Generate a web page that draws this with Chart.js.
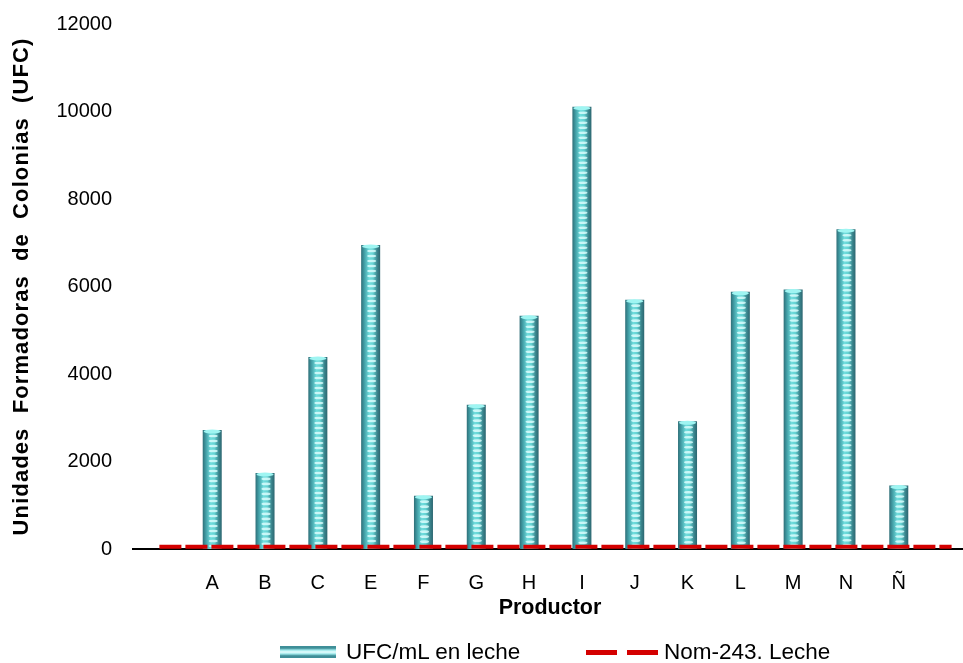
<!DOCTYPE html>
<html>
<head>
<meta charset="utf-8">
<script src="https://cdn.jsdelivr.net/npm/chart.js@4.4.1/dist/chart.umd.min.js"></script>
<style>
  html, body { margin: 0; padding: 0; background: #fff; overflow: hidden; }
  #wrap { position: relative; width: 963px; height: 663px; overflow: hidden; }
  #c { position: absolute; left: 0; top: 0; }
  #legend { position: absolute; top: 640px; left: 0; width: 963px; height: 24px;
    font-family: "Liberation Sans", Arial, sans-serif; font-size: 22.5px; color: #000; }
  .item { position: absolute; top: 0; display: flex; align-items: center; height: 24px; }
  .barIcon { width: 56px; height: 12px; margin-right: 10px;
    background: linear-gradient(to bottom, #3f8f98 0%, #3f8f98 18%, #9ee8ea 34%, #e8ffff 50%, #9ee8ea 66%, #3f8f98 82%, #3f8f98 100%); }
  .dashIcon { width: 72px; height: 5px; margin-right: 6px;
    background: repeating-linear-gradient(to right, #d40000 0, #d40000 31px, transparent 31px, transparent 41px); }
</style>
</head>
<body>
<div id="wrap">
  <canvas id="c" width="978" height="663"></canvas>
  <div id="legend">
    <div class="item" style="left:280px"><div class="barIcon"></div><span>UFC/mL en leche</span></div>
    <div class="item" style="left:586px"><div class="dashIcon"></div><span>Nom-243. Leche</span></div>
  </div>
</div>
<script>
// Producers (blank slots pad both ends of the axis)
const productores = ['', 'A', 'B', 'C', 'E', 'F', 'G', 'H', 'I', 'J', 'K', 'L', 'M', 'N', 'Ñ', ''];
// Colony forming units per mL in milk
const ufcLeche = [null, 2720, 1740, 4390, 6950, 1220, 3300, 5330, 10110, 5700, 2920, 5880, 5930, 7310, 1450, null];
// NOM-243 reference limit for milk
const nom243 = [50, 50, 50, 50, 50, 50, 50, 50, 50, 50, 50, 50, 50, 50, 50, 50];
const yTicks = [0, 2000, 4000, 6000, 8000, 10000, 12000];
const yTitle = 'Unidades Formadoras de Colonias (UFC)';
const xTitle = 'Productor';

const FONT = '"Liberation Sans", Arial, sans-serif';
const BAR_W = 19;

function barFill(context) {
  const chart = context.chart;
  const xs = chart.scales && chart.scales.x;
  if (!xs || !chart.chartArea) return '#4fb8bd';
  const cx = xs.getPixelForValue(context.dataIndex);
  if (!isFinite(cx)) return '#4fb8bd';
  const x0 = cx - BAR_W / 2;
  const g = chart.ctx.createLinearGradient(x0, 0, x0 + BAR_W, 0);
  g.addColorStop(0, '#2f6f78');
  g.addColorStop(0.15, '#3f9aa2');
  g.addColorStop(0.42, '#70dede');
  g.addColorStop(0.62, '#64d2d2');
  g.addColorStop(0.85, '#3a848c');
  g.addColorStop(1, '#2c6670');
  return g;
}

// Light horizontal ribs and a bright cap on each column
const ribs = {
  id: 'ribs',
  afterDatasetDraw(chart, args) {
    if (args.index !== 0) return;
    const meta = chart.getDatasetMeta(0);
    const ctx = chart.ctx;
    ctx.save();
    meta.data.forEach((el, i) => {
      if (ufcLeche[i] == null) return;
      const w = el.width;
      const top = el.y, base = el.base;
      const cx = el.x;
      if (!isFinite(top) || !isFinite(cx)) return;
      for (let y = top + 6; y < base - 2; y += 5) {
        ctx.fillStyle = 'rgba(225,255,255,0.8)';
        ctx.beginPath();
        ctx.ellipse(cx + 1, y, w * 0.24, 1.3, 0, 0, Math.PI * 2);
        ctx.fill();
      }
      ctx.fillStyle = '#9ff5f2';
      ctx.beginPath();
      ctx.ellipse(cx, top + 1.5, w * 0.45, 2, 0, 0, Math.PI * 2);
      ctx.fill();
    });
    ctx.restore();
  }
};

// Axis titles: rotated value-axis title and the category-axis title
const axisTitles = {
  id: 'axisTitles',
  afterDraw(chart) {
    const area = chart.chartArea;
    const ctx = chart.ctx;
    ctx.save();
    ctx.fillStyle = '#000';
    ctx.textAlign = 'center';
    ctx.textBaseline = 'middle';
    ctx.translate(22, (area.top + area.bottom) / 2);
    ctx.rotate(-Math.PI / 2);
    ctx.font = 'bold 22px ' + FONT;
    if ('letterSpacing' in ctx) ctx.letterSpacing = '1.1px';
    if ('wordSpacing' in ctx) ctx.wordSpacing = '7px';
    ctx.fillText(yTitle, 0, 0);
    ctx.restore();

    ctx.save();
    ctx.fillStyle = '#000';
    ctx.textAlign = 'center';
    ctx.textBaseline = 'middle';
    ctx.font = 'bold 21.5px ' + FONT;
    ctx.fillText(xTitle, 550, 608);
    ctx.restore();
  }
};

new Chart(document.getElementById('c'), {
  data: {
    labels: productores,
    datasets: [
      {
        type: 'bar',
        label: 'UFC/mL en leche',
        data: ufcLeche,
        backgroundColor: barFill,
        borderWidth: 0,
        barPercentage: 0.36,
        categoryPercentage: 1.0,
        order: 2
      },
      {
        type: 'line',
        label: 'Nom-243. Leche',
        data: nom243,
        borderColor: '#d40000',
        borderWidth: 4,
        borderDash: [22, 4],
        pointRadius: 0,
        fill: false,
        tension: 0,
        order: 1
      }
    ]
  },
  options: {
    responsive: false,
    animation: false,
    layout: { padding: { top: 24, right: 0, bottom: 43, left: 0 } },
    plugins: {
      legend: { display: false },
      tooltip: { enabled: false }
    },
    scales: {
      x: {
        offset: true,
        grid: { display: false, drawTicks: false },
        border: { display: true, color: '#000', width: 2 },
        ticks: { color: '#000', font: { family: FONT, size: 20 }, padding: 22, maxRotation: 0, autoSkip: false },
        title: { display: false },
        afterFit(scale) { scale.height = 71; scale.paddingLeft = 0; scale.paddingRight = 0; }
      },
      y: {
        min: 0,
        max: 12000,
        afterBuildTicks(scale) { scale.ticks = yTicks.map(v => ({ value: v })); },
        grid: { display: false, drawTicks: false },
        border: { display: false },
        ticks: { color: '#000', font: { family: FONT, size: 20 }, padding: 21, callback: v => String(v) },
        title: { display: false },
        afterFit(scale) { scale.width = 133; scale.paddingTop = 0; scale.paddingBottom = 0; }
      }
    }
  },
  plugins: [ribs, axisTitles]
});
</script>
</body>
</html>
